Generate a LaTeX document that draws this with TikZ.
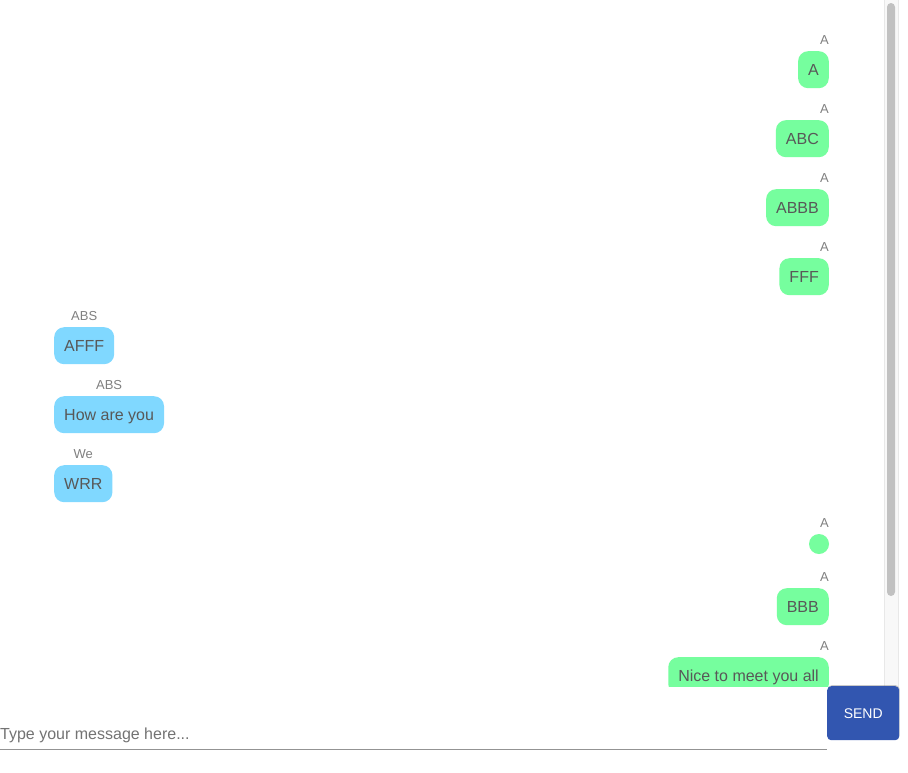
\documentclass[tikz,border=0pt]{standalone}
\usepackage{fontspec}
\setmainfont{Liberation Sans}
\usetikzlibrary{shadows}
\definecolor{mine}{RGB}{118,254,158}
\definecolor{theirs}{RGB}{128,216,255}
\definecolor{bubtext}{RGB}{88,88,88}
\definecolor{labtext}{RGB}{128,128,128}
\definecolor{sendblue}{RGB}{50,86,176}
\definecolor{track}{RGB}{248,248,248}
\definecolor{trackline}{RGB}{232,232,232}
\definecolor{thumb}{RGB}{193,193,193}
\begin{document}
\begin{tikzpicture}[x=1pt,y=-1pt,
  bubble/.style={rounded corners=10pt, inner xsep=10pt, inner ysep=0pt,
    minimum height=37pt, text height=11.5pt, text depth=0pt, text=bubtext,
    font=\fontsize{16}{19}\selectfont},
  minebub/.style={bubble, fill=mine, anchor=north east},
  theirbub/.style={bubble, fill=theirs, anchor=north west},
  who/.style={text=labtext, inner sep=0pt, font=\fontsize{13}{15}\selectfont}]
\useasboundingbox (0,0) rectangle (908,772);
\fill[white] (0,0) rectangle (908,772);
% scrollbar
\fill[track] (884,0) rectangle (898,686);
\draw[trackline, line width=1pt] (884.5,0) -- (884.5,686) (898.5,0) -- (898.5,686);
\fill[thumb, rounded corners=4pt] (887,3) rectangle (895,596);
% messages
\node[minebub] (m1) at (829,51) {A};
\node[who, anchor=base east] (l1) at (829,44) {A};
\node[minebub] (m2) at (829,120) {ABC};
\node[who, anchor=base east] (l2) at (829,113) {A};
\node[minebub] (m3) at (829,189) {ABBB};
\node[who, anchor=base east] (l3) at (829,182) {A};
\node[minebub] (m4) at (829,258) {FFF};
\node[who, anchor=base east] (l4) at (829,251) {A};
\node[theirbub] (m5) at (54,327) {AFFF};
\node[who, anchor=base] (l5) at (m5.center |- 0,320) {ABS};
\node[theirbub] (m6) at (54,396) {How are you};
\node[who, anchor=base] (l6) at (m6.center |- 0,389) {ABS};
\node[theirbub] (m7) at (54,465) {WRR};
\node[who, anchor=base] (l7) at (m7.center |- 0,458) {We};
\node[circle, fill=mine, minimum size=20pt, inner sep=0pt] (m8) at (819,544) {};
\node[who, anchor=base east] (l8) at (829,527) {A};
\node[minebub] (m9) at (829,588) {BBB};
\node[who, anchor=base east] (l9) at (829,581) {A};
\node[who, anchor=base east] (l10) at (829,650) {A};
\begin{scope}
  \clip (0,0) rectangle (884,686);
  \node[minebub] (m10) at (829,657) {Nice to meet you all};
\end{scope}
% input
\node[anchor=base west, inner sep=0pt, text=labtext!90!black, font=\fontsize{16}{19}\selectfont] (inp) at (0,739) {Type your message here...};
\coordinate (lineA) at (0,749);
\coordinate (lineB) at (827,749);
\draw[color=labtext!85!white, line width=1pt] (lineA) -- (lineB);
\node[fill=sendblue, rounded corners=4pt, minimum width=72pt, minimum height=54pt, inner sep=0pt,
  text=white, font=\fontsize{14}{16}\selectfont, anchor=north west,
  drop shadow={shadow xshift=0.5pt, shadow yshift=1pt, opacity=0.35, fill=black!60}] (send) at (827,686) {SEND};
\end{tikzpicture}
\end{document}
